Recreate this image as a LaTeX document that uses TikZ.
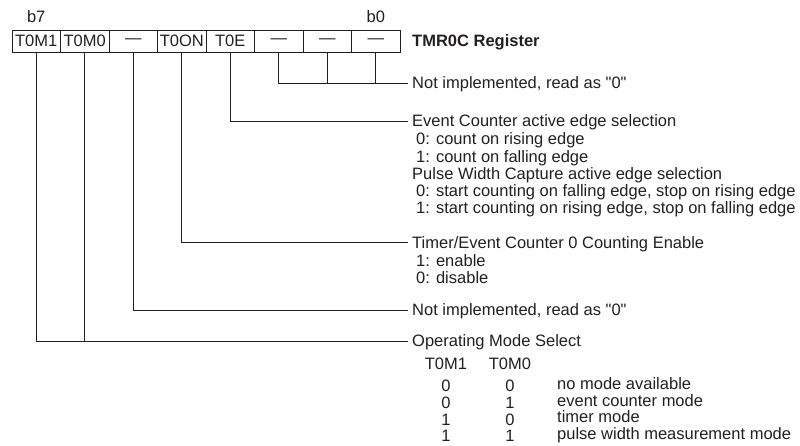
\documentclass[tikz,border=0pt]{standalone}
\usepackage{fontspec}
\setmainfont{Liberation Sans}
\usetikzlibrary{positioning}
\definecolor{ink}{RGB}{35,31,32}

\begin{document}
\begin{tikzpicture}[x=1pt, y=-1pt,
        every node/.style = {font=\fontsize{16.5}{17.3}\selectfont, text=ink},
        bit/.style = {draw=ink, line width=0.9pt, minimum width=48.5pt, minimum height=22pt, inner sep=0pt},
        txt/.style = {inner sep=0pt, text height=11.8pt, text depth=0pt},
        hdr/.style = {txt, anchor=west},
        opt/.style = {align=left, inner sep=0pt},
        wire/.style = {draw=ink, line width=0.9pt, shorten >=4pt},
        tap/.style = {draw=ink, line width=0.9pt}
        ]
        \useasboundingbox (0,0) rectangle (800,446);

        % register cells, b7 on the left
        \node[bit] (t0m1) at (36.25,41) {T0M1};
        \node[bit] (t0m0) at (84.75,41) {T0M0};
        \node[bit] (bit5) at (133.25,41) {\textemdash};
        \node[bit] (t0on) at (181.75,41) {T0ON};
        \node[bit] (t0e)  at (230.25,41) {T0E};
        \node[bit] (bit2) at (278.75,41) {\textemdash};
        \node[bit] (bit1) at (327.25,41) {\textemdash};
        \node[bit] (bit0) at (375.75,41) {\textemdash};

        \node[txt] (lb7) at (36.25,17) {b7};
        \node[txt] (lb0) at (375.75,17) {b0};
        \node[hdr, font=\fontsize{16.5}{17.3}\selectfont\bfseries] (title) at (412,41) {TMR0C Register};

        % descriptions
        \node[hdr] (ni1) at (412,83) {Not implemented, read as \textquotedbl 0\textquotedbl};

        \node[hdr] (ec) at (412,121) {Event Counter active edge selection};
        \node[opt, below=5.5pt of ec.south west, anchor=north west] (ecopt) {%
            \hspace*{4pt}0: count on rising edge\\
            \hspace*{4pt}1: count on falling edge\\
            Pulse Width Capture active edge selection\\
            \hspace*{4pt}0: start counting on falling edge, stop on rising edge\\
            \hspace*{4pt}1: start counting on rising edge, stop on falling edge};

        \node[hdr] (tec) at (412,242.5) {Timer/Event Counter 0 Counting Enable};
        \node[opt, below=5.5pt of tec.south west, anchor=north west] (tecopt) {%
            \hspace*{4pt}1: enable\\
            \hspace*{4pt}0: disable};

        \node[hdr] (ni2) at (412,310) {Not implemented, read as \textquotedbl 0\textquotedbl};

        \node[hdr] (oms) at (412,341) {Operating Mode Select};
        \node[txt] (hm1) at (446,364) {T0M1};
        \node[txt] (hm0) at (510,364) {T0M0};
        \foreach \a/\b/\mode/\y [count=\r] in {0/0/no mode available/386, 0/1/event counter mode/402.7,
                1/0/timer mode/419.4, 1/1/pulse width measurement mode/436} {
            \node[txt] (m1r\r) at (446,\y) {\a};
            \node[txt] (m0r\r) at (510,\y) {\b};
            \node[hdr] (mode\r) at (557,\y-2.5) {\mode};
        }

        % connectors
        \draw[wire] (bit2.south) |- (ni1.west);
        \draw[tap]  (bit1.south) -- (bit1.south |- ni1.west);
        \draw[tap]  (bit0.south) -- (bit0.south |- ni1.west);
        \draw[wire] (t0e.south) |- (ec.west);
        \draw[wire] (t0on.south) |- (tec.west);
        \draw[wire] (bit5.south) |- (ni2.west);
        \draw[wire] (t0m1.south) |- (oms.west);
        \draw[tap]  (t0m0.south) -- (t0m0.south |- oms.west);
    \end{tikzpicture}
\end{document}
